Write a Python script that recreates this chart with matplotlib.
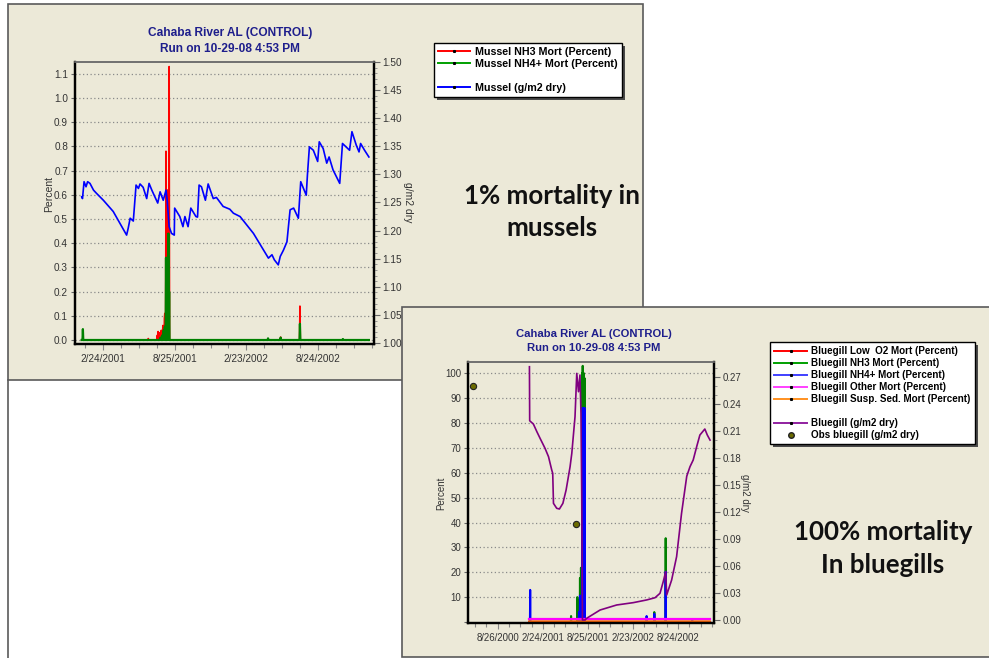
import numpy as np
import pandas as pd
import matplotlib
matplotlib.use("Agg")
import matplotlib.pyplot as plt
import matplotlib.dates as mdates
import matplotlib.transforms as mtransforms
from matplotlib.patches import Rectangle
from matplotlib.lines import Line2D

plt.rcParams['font.family'] = ['Liberation Sans', 'DejaVu Sans']

# ---------------------------------------------------------------- data
sim_start, sim_end = '2001-01-01', '2002-12-31'

# Mussel biomass (g/m2 dry)
mussel_dates = ['2001-01-01', '2001-01-03', '2001-01-07', '2001-01-12', '2001-01-16', '2001-01-22',
                '2001-01-31', '2001-02-08', '2001-02-25', '2001-03-22', '2001-04-25', '2001-04-29',
                '2001-05-04', '2001-05-12', '2001-05-19', '2001-05-25', '2001-05-29', '2001-06-06',
                '2001-06-15', '2001-06-21', '2001-06-28', '2001-07-13', '2001-07-19', '2001-07-27',
                '2001-08-03', '2001-08-06', '2001-08-11', '2001-08-17', '2001-08-24', '2001-08-25',
                '2001-09-07', '2001-09-15', '2001-09-20', '2001-09-28', '2001-10-05', '2001-10-18',
                '2001-10-22', '2001-10-26', '2001-11-01', '2001-11-11', '2001-11-18', '2001-12-01',
                '2001-12-09', '2001-12-26', '2002-01-12', '2002-01-21', '2002-02-07', '2002-03-13',
                '2002-04-20', '2002-04-29', '2002-05-05', '2002-05-15', '2002-05-20', '2002-05-28',
                '2002-06-06', '2002-06-14', '2002-06-23', '2002-07-05', '2002-07-11', '2002-07-25',
                '2002-07-28', '2002-08-02', '2002-08-12', '2002-08-23', '2002-08-27', '2002-09-06',
                '2002-09-15', '2002-09-21', '2002-10-01', '2002-10-18', '2002-10-25', '2002-11-12',
                '2002-11-18', '2002-11-29', '2002-12-06', '2002-12-10', '2002-12-20', '2002-12-31']
mussel_biomass = [1.260, 1.257, 1.287, 1.278, 1.287, 1.284, 1.272, 1.266, 1.254, 1.234,
                  1.192, 1.204, 1.222, 1.217, 1.281, 1.275, 1.283, 1.277, 1.257, 1.284,
                  1.272, 1.249, 1.269, 1.254, 1.272, 1.254, 1.207, 1.195, 1.192, 1.240,
                  1.225, 1.207, 1.225, 1.207, 1.240, 1.225, 1.224, 1.281, 1.278, 1.254,
                  1.283, 1.257, 1.259, 1.243, 1.238, 1.231, 1.225, 1.195, 1.151, 1.157,
                  1.148, 1.139, 1.154, 1.165, 1.180, 1.237, 1.240, 1.222, 1.287, 1.263,
                  1.299, 1.349, 1.343, 1.323, 1.358, 1.346, 1.320, 1.331, 1.308, 1.284,
                  1.355, 1.343, 1.376, 1.352, 1.340, 1.355, 1.343, 1.331]

# Mussel mortality (percent) - days with a non-zero value
mussel_nh3_dates = ['2001-06-19', '2001-07-12', '2001-07-14', '2001-07-16', '2001-07-18', '2001-07-20',
                    '2001-07-22', '2001-07-24', '2001-07-26', '2001-07-28', '2001-07-30', '2001-07-31',
                    '2001-08-03', '2001-08-05', '2001-08-07', '2001-08-09', '2001-08-11',
                    '2002-05-21', '2002-07-09']
mussel_nh3_pct = [0.006, 0.02, 0.035, 0.01, 0.03, 0.015,
                  0.04, 0.03, 0.06, 0.05, 0.09, 0.11,
                  0.78, 0.60, 0.62, 0.60, 1.13,
                  0.012, 0.14]
mussel_nh4_dates = ['2001-01-04', '2001-07-20', '2001-07-25', '2001-07-28', '2001-07-31',
                    '2001-08-03', '2001-08-06', '2001-08-09', '2001-08-11',
                    '2002-04-19', '2002-05-21', '2002-07-09', '2002-10-26']
mussel_nh4_pct = [0.045, 0.01, 0.02, 0.04, 0.055,
                  0.34, 0.34, 0.44, 0.20,
                  0.007, 0.01, 0.067, 0.004]

# Bluegill biomass (g/m2 dry)
bluegill_dates = ['2001-01-01', '2001-01-02', '2001-01-17', '2001-01-31', '2001-02-13', '2001-03-05',
                  '2001-03-19', '2001-04-01', '2001-04-05', '2001-04-08', '2001-04-21', '2001-05-02',
                  '2001-05-16', '2001-05-29', '2001-06-14', '2001-06-21', '2001-07-04', '2001-07-11',
                  '2001-07-18', '2001-07-24', '2001-07-28', '2001-07-31', '2001-08-03', '2001-08-13',
                  '2001-08-20', '2001-10-13', '2001-12-19', '2002-02-24', '2002-04-19', '2002-05-23',
                  '2002-06-12', '2002-06-25', '2002-07-05', '2002-07-09', '2002-07-29', '2002-08-18',
                  '2002-09-07', '2002-09-28', '2002-10-11', '2002-10-24', '2002-11-07', '2002-11-20',
                  '2002-12-10', '2002-12-20', '2002-12-31']
bluegill_biomass = [0.2818, 0.2217, 0.2180, 0.2095, 0.2021, 0.1910,
                    0.1817, 0.1669, 0.1632, 0.1298, 0.1243, 0.1235,
                    0.1298, 0.1446, 0.1705, 0.1855, 0.2262, 0.2744,
                    0.2540, 0.2726, 0.2300, 0.1410, 0.0, 0.0,
                    0.0019, 0.0111, 0.0167, 0.0193, 0.0223, 0.0248,
                    0.0297, 0.0426, 0.0537, 0.0278, 0.0445, 0.0704,
                    0.1187, 0.1600, 0.1705, 0.1780, 0.1928, 0.2058,
                    0.2125, 0.2058, 0.2002]

# Observed bluegill biomass (g/m2 dry)
obs_dates = ['2000-05-20', '2001-07-08']
obs_biomass = [0.2603, 0.1068]

# Bluegill mortality (percent) - days with a non-zero value
bluegill_nh3_dates = ['2001-06-18', '2001-07-13', '2001-07-15', '2001-07-17', '2001-07-21', '2001-07-24',
                      '2001-07-28', '2001-08-02', '2001-08-04', '2001-08-06', '2001-08-09', '2001-08-12',
                      '2002-05-20', '2002-07-05']
bluegill_nh3_pct = [2.4, 10.0, 3.0, 6.0, 9.0, 17.7,
                    21.8, 100.0, 103.0, 100.0, 100.0, 98.0,
                    4.0, 33.7]
bluegill_nh4_dates = ['2001-01-04', '2001-07-20', '2001-07-24', '2001-07-28', '2001-08-02', '2001-08-04',
                      '2001-08-06', '2001-08-09', '2001-08-12', '2002-04-19', '2002-05-20', '2002-07-05',
                      '2002-10-20']
bluegill_nh4_pct = [12.9, 4.0, 10.6, 5.0, 67.0, 86.0,
                    86.0, 86.0, 86.0, 2.4, 3.3, 20.2,
                    1.0]

# Axis ticks
top_xtick_dates = ['2001-02-24', '2001-08-25', '2002-02-23', '2002-08-24']
top_xtick_labels = ['2/24/2001', '8/25/2001', '2/23/2002', '8/24/2002']
bot_xtick_dates = ['2000-08-26', '2001-02-24', '2001-08-25', '2002-02-23', '2002-08-24']
bot_xtick_labels = ['8/26/2000', '2/24/2001', '8/25/2001', '2/23/2002', '8/24/2002']

title_line1 = 'Cahaba River AL (CONTROL)'
title_line2 = 'Run on 10-29-08 4:53 PM'

# ---------------------------------------------------------------- helpers
W, H = 989, 658
BEIGE = '#ECE9D8'
NAVY = '#1E1E8C'
TICKC = '#333333'
days = pd.date_range(sim_start, sim_end, freq='D')
day_num = mdates.date2num(days.to_pydatetime())


def dnum(dates):
    return mdates.date2num(pd.to_datetime(dates).to_pydatetime())


def daily(dates, vals):
    s = pd.Series(0.0, index=days)
    s.loc[pd.to_datetime(dates)] = vals
    return s.values


def fx(px):
    return px / W


def fy(py):
    return 1 - py / H


def style_axes(ax, ax2, xt_dates, xt_labels, xlim, fs):
    for a in (ax, ax2):
        for side in ('left', 'right', 'bottom'):
            a.spines[side].set_linewidth(1.6)
            a.spines[side].set_color('black')
        a.spines['top'].set_color('#707070')
        a.spines['top'].set_linewidth(1.2)
        a.set_facecolor('none')
    ax.set_xlim(*xlim)
    major = dnum(xt_dates)
    ax.set_xticks(major)
    ax.set_xticklabels(xt_labels)
    minor = major[0] + 45.5 * np.arange(-12, 30)
    minor = minor[(minor > xlim[0]) & (minor < xlim[1])]
    ax.set_xticks(minor, minor=True)
    ax.tick_params(axis='x', which='major', length=4, width=0.8, color='#888888',
                   labelsize=fs, labelcolor=TICKC, pad=3)
    ax.tick_params(axis='x', which='minor', length=3, width=0.8, color='#888888')
    ax.tick_params(axis='y', which='major', length=3, width=0.8, color='#666666',
                   labelsize=fs, labelcolor=TICKC, pad=2)
    ax2.tick_params(axis='y', which='major', length=4, width=0.8, color='#666666',
                    labelsize=fs, labelcolor=TICKC, pad=2)
    ax2.tick_params(axis='y', which='minor', length=2, width=0.6, color='#888888')
    ax.grid(True, axis='y', linestyle=(0, (1, 2)), color='#8a8a8a', linewidth=0.9)
    ax.set_axisbelow(True)


def add_shadowed_legend(handles, labels, x0, y0, size, **kw):
    leg = fig.legend(handles, labels, loc='upper left', bbox_to_anchor=(fx(x0), fy(y0)),
                     bbox_transform=fig.transFigure, borderaxespad=0, fancybox=False,
                     framealpha=1, prop={'weight': 'bold', 'size': size}, numpoints=1, **kw)
    leg.get_frame().set_edgecolor('black')
    leg.get_frame().set_linewidth(1.0)
    leg.set_zorder(6)
    # drop shadow: a dark copy of the frame, shifted right and down
    fig.canvas.draw()
    bb = leg.get_window_extent().transformed(fig.transFigure.inverted())
    fig.add_artist(Rectangle((bb.x0 + fx(3), bb.y0 - 3 / H), bb.width, bb.height,
                             transform=fig.transFigure, facecolor='#4a4a4a',
                             edgecolor='none', zorder=5.5))
    return leg


fig = plt.figure(figsize=(W / 100, H / 100), dpi=100)
fig.patch.set_facecolor('white')

# panels
fig.add_artist(Rectangle((fx(8), fy(380)), fx(635), 376 / H, transform=fig.transFigure,
                         facecolor=BEIGE, edgecolor='#5a5a5a', linewidth=1.2, zorder=-10))
fig.add_artist(Line2D([fx(8), fx(8)], [fy(380), fy(660)], transform=fig.transFigure,
                      color='#5a5a5a', linewidth=1.2, zorder=-10))
fig.add_artist(Rectangle((fx(402), fy(657)), fx(620), 350 / H, transform=fig.transFigure,
                         facecolor=BEIGE, edgecolor='#5a5a5a', linewidth=1.2, zorder=-9))

# ---------------------------------------------------------------- mussel chart
ax = fig.add_axes([fx(75), fy(344), fx(299), 282 / H])
ax2 = ax.twinx()
style_axes(ax, ax2, top_xtick_dates, top_xtick_labels,
           (dnum(['2000-12-15'])[0], dnum(['2003-01-13'])[0]), 7.2)

ax.plot(day_num, daily(mussel_nh3_dates, mussel_nh3_pct), color='#FF0000', lw=1.2)
ax.plot(day_num, daily(mussel_nh4_dates, mussel_nh4_pct), color='#008000', lw=1.6)
ax.set_ylim(-0.0165, 1.149)
ax.set_yticks(np.round(np.arange(0, 1.11, 0.1), 2))
ax.yaxis.set_major_formatter(matplotlib.ticker.FormatStrFormatter('%.1f'))

ax2.plot(dnum(mussel_dates), mussel_biomass, color='#0000FF', lw=1.2)
ax2.set_ylim(0.9982, 1.5)
ax2.set_yticks(np.round(np.arange(1.0, 1.501, 0.05), 2))
ax2.set_yticks(np.round(np.arange(1.0, 1.501, 0.01), 2), minor=True)
ax2.yaxis.set_major_formatter(matplotlib.ticker.FormatStrFormatter('%.2f'))

fig.text(fx(230), fy(33), title_line1, ha='center', va='center', fontsize=8.6,
         fontweight='bold', color=NAVY)
fig.text(fx(230), fy(49), title_line2, ha='center', va='center', fontsize=8.6,
         fontweight='bold', color=NAVY)
fig.text(fx(49), fy(194), 'Percent', rotation=90, ha='center', va='center',
         fontsize=7.5, color=TICKC)
fig.text(fx(408), fy(202), 'g/m2 dry', rotation=270, ha='center', va='center',
         fontsize=7.5, color=TICKC)


def handle(color, lw=1.4):
    return Line2D([], [], color=color, lw=lw, marker='s', markersize=1.2,
                  markerfacecolor='black', markeredgecolor='black')


blank = Line2D([], [], color='none')
add_shadowed_legend([handle('#FF0000'), handle('#00A000'), blank, handle('#0000FF')],
                    ['Mussel NH3 Mort (Percent)', 'Mussel NH4+ Mort (Percent)', ' ',
                     'Mussel (g/m2 dry)'],
                    434, 42.7, 7.7, handlelength=3.0, handletextpad=0.4,
                    labelspacing=0.18, borderpad=0.4)

ann_font = dict(ha='center', va='center', fontsize=18.6, fontweight='bold',
                family=['Lato', 'DejaVu Sans'], color='#111111')
fig.text(fx(552), fy(196), '1% mortality in', **ann_font)
fig.text(fx(552), fy(228), 'mussels', **ann_font)

# ---------------------------------------------------------------- bluegill chart
bx = fig.add_axes([fx(468), fy(623.3), fx(246), 261.6 / H])
bx2 = bx.twinx()
style_axes(bx, bx2, bot_xtick_dates, bot_xtick_labels,
           (dnum(['2000-04-28'])[0], dnum(['2003-01-16'])[0]), 6.9)

zeros = np.zeros(len(days))
bx.plot(day_num, daily(bluegill_nh3_dates, bluegill_nh3_pct), color='#008000', lw=1.5)
bx.plot(day_num, daily(bluegill_nh4_dates, bluegill_nh4_pct), color='#0000FF', lw=1.5)
bx.plot(day_num, zeros, color='#FF0000', lw=1.3)
up1 = mtransforms.offset_copy(bx.transData, fig=fig, x=0, y=1.4, units='dots')
up2 = mtransforms.offset_copy(bx.transData, fig=fig, x=0, y=3.0, units='dots')
bx.plot(day_num, zeros, color='#FF8000', lw=1.1, transform=up1)
bx.plot(day_num, zeros, color='#FF00FF', lw=1.6, transform=up2)
bx.set_ylim(-0.52, 104.67)
bx.set_yticks(np.arange(10, 101, 10))
bx.set_yticks([0], minor=True)
bx.tick_params(axis='y', which='minor', length=3, width=0.8, color='#666666')

bx2.plot(dnum(bluegill_dates), bluegill_biomass, color='#800080', lw=1.2)
bx2.plot(dnum(obs_dates), obs_biomass, 'o', markersize=4.5, markerfacecolor='#6B6B00',
         markeredgecolor='#222222', markeredgewidth=0.8)
bx2.set_ylim(-0.00367, 0.2874)
bx2.set_yticks(np.round(np.arange(0, 0.271, 0.03), 2))
bx2.set_yticks(np.round(np.arange(0, 0.281, 0.01), 2), minor=True)
bx2.yaxis.set_major_formatter(matplotlib.ticker.FormatStrFormatter('%.2f'))

fig.text(fx(594), fy(334), title_line1, ha='center', va='center', fontsize=8.1,
         fontweight='bold', color=NAVY)
fig.text(fx(594), fy(347.7), title_line2, ha='center', va='center', fontsize=8.1,
         fontweight='bold', color=NAVY)
fig.text(fx(441.7), fy(493), 'Percent', rotation=90, ha='center', va='center',
         fontsize=7, color=TICKC)
fig.text(fx(745), fy(493), 'g/m2 dry', rotation=270, ha='center', va='center',
         fontsize=7, color=TICKC)

obs_handle = Line2D([], [], color='none', marker='o', markersize=4,
                    markerfacecolor='#6B6B00', markeredgecolor='#222222')
add_shadowed_legend([handle('#FF0000'), handle('#00A000'), handle('#4040FF'), handle('#FF40FF'),
                     handle('#FF9020'), blank, handle('#9020A0'), obs_handle],
                    ['Bluegill Low  O2 Mort (Percent)', 'Bluegill NH3 Mort (Percent)',
                     'Bluegill NH4+ Mort (Percent)', 'Bluegill Other Mort (Percent)',
                     'Bluegill Susp. Sed. Mort (Percent)', ' ', 'Bluegill (g/m2 dry)',
                     'Obs bluegill (g/m2 dry)'],
                    770, 342.3, 7.1, handlelength=3.4, handletextpad=0.4,
                    labelspacing=0.2, borderpad=0.4)

fig.text(fx(883), fy(531.7), '100% mortality', **ann_font)
fig.text(fx(883), fy(565), 'In bluegills', **ann_font)

fig.savefig('out.png', dpi=100, facecolor='white')
